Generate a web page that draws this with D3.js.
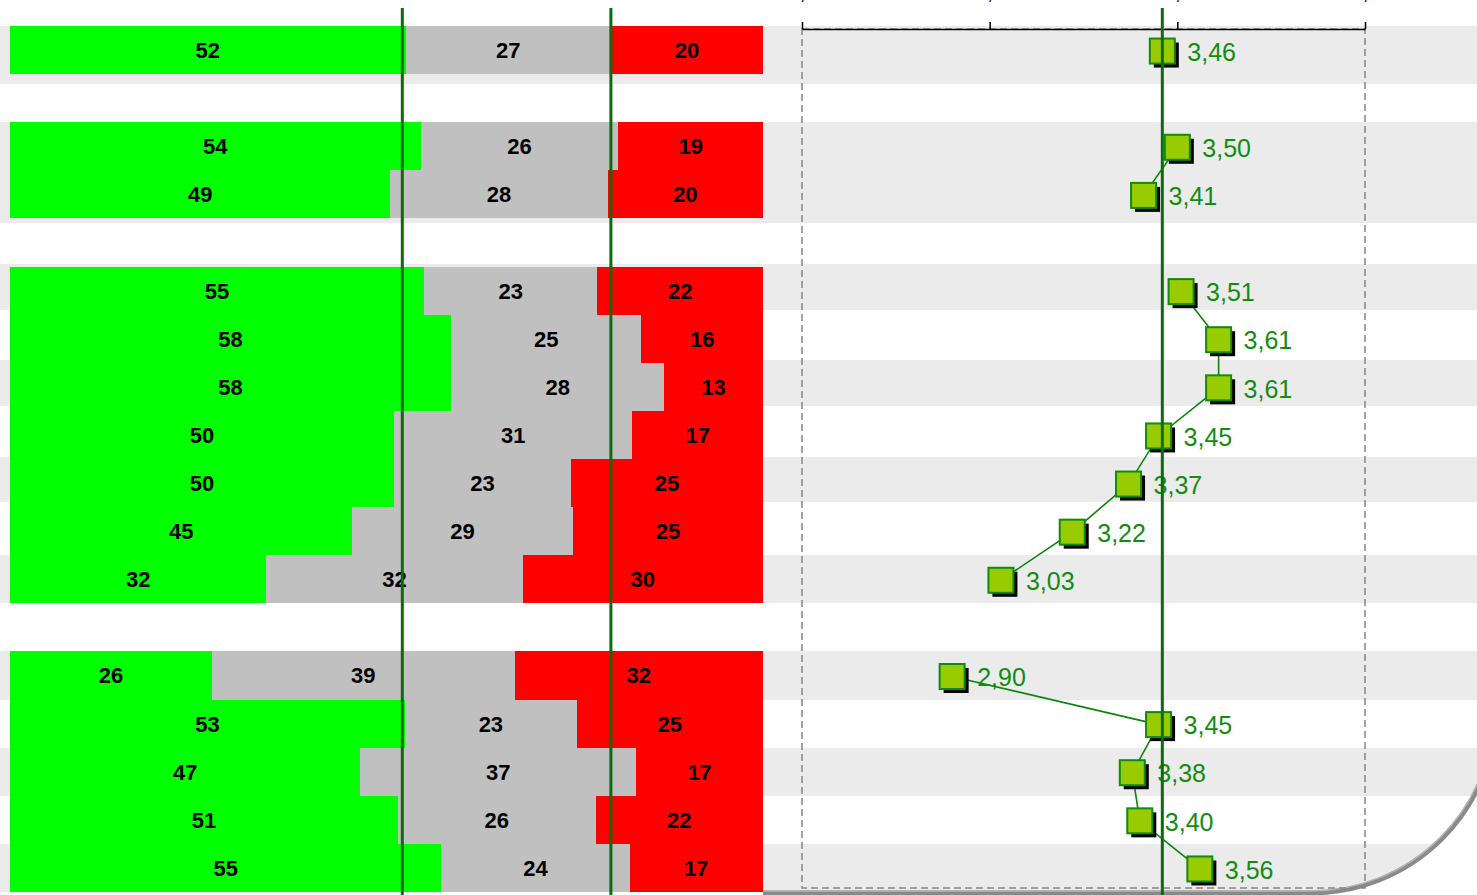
<!DOCTYPE html>
<html>
<head>
<meta charset="utf-8">
<script src="https://cdn.jsdelivr.net/npm/d3@7"></script>
<style>
body { margin: 0; background: #fff; overflow: hidden; }
svg { display: block; font-family: "Liberation Sans", Arial, sans-serif; }
</style>
</head>
<body>
<div id="chart"></div>
<script>
// each drawn row sits on an 18-slot grid, empty slots separate the groups
const slots    = [0, 2, 3, 5, 6, 7, 8, 9, 10, 11, 13, 14, 15, 16, 17];
const groups   = [1, 2, 2, 3, 3, 3, 3, 3, 3, 3, 4, 4, 4, 4, 4];
const positive = [52, 54, 49, 55, 58, 58, 50, 50, 45, 32, 26, 53, 47, 51, 55];
const neutral  = [27, 26, 28, 23, 25, 28, 31, 23, 29, 32, 39, 23, 37, 26, 24];
const negative = [20, 19, 20, 22, 16, 13, 17, 25, 25, 30, 32, 25, 17, 22, 17];
const means    = [3.46, 3.50, 3.41, 3.51, 3.61, 3.61, 3.45, 3.37, 3.22, 3.03, 2.90, 3.45, 3.38, 3.40, 3.56];

const benchShares = [52.1, 79.8];   // reference lines on the share bars (%)
const benchMean = 3.46;
const meanTicks = [2.5, 3.0, 3.5, 4.0];
// shaded background stripes, in slot units
const stripes = [[0, 1.2], [2, 4.1], [4.95, 5.9], [6.95, 7.9], [8.95, 9.9], [11, 12], [13, 14], [15, 16], [17, 18]];

const width = 1477, height = 895;
const segColors = ['#00ff00', '#c0c0c0', '#ff0000'];
const darkGreen = '#0a6c0a';

const svg = d3.select('#chart').append('svg')
    .attr('width', width)
    .attr('height', height);

const y = d3.scaleBand().domain(d3.range(18)).range([26, 892]);
const ySlot = d3.scaleLinear().domain([0, 18]).range([26, 892]);
const xShare = d3.scaleLinear().domain([0, 100]).range([10, 763]);
const xMean = d3.scaleLinear().domain([2.5, 4.0]).range([802, 1365]);

// background stripes
svg.append('g').selectAll('rect').data(stripes)
    .enter().append('rect')
    .attr('x', 0)
    .attr('width', width)
    .attr('y', d => ySlot(d[0]))
    .attr('height', d => ySlot(d[1]) - ySlot(d[0]))
    .attr('fill', '#ebebeb')
    .attr('shape-rendering', 'crispEdges');

// rounded frame corner bottom right
const r = 185, cxC = 1311, bottom = 893;
svg.append('path')
    .attr('d', `M${cxC},${bottom} A${r},${r} 0 0 0 ${cxC + r},${bottom - r} L${cxC + r},${height + 5} L${cxC},${height + 5} Z`)
    .attr('fill', '#fff');
svg.append('path')
    .attr('d', `M763,${bottom} H${cxC} A${r},${r} 0 0 0 ${cxC + r},${bottom - r}`)
    .attr('fill', 'none')
    .attr('stroke', '#8a8a8a')
    .attr('stroke-width', 5);
svg.append('path')
    .attr('d', `M763,${bottom - 2} H${cxC} A${r - 2},${r - 2} 0 0 0 ${cxC + r - 2},${bottom - r}`)
    .attr('fill', 'none')
    .attr('stroke', '#b4b4b4')
    .attr('stroke-width', 1.5);

// dashed plot box for the means
svg.append('rect')
    .attr('x', xMean(2.5))
    .attr('y', 29)
    .attr('width', xMean(4.0) - xMean(2.5))
    .attr('height', 888 - 29)
    .attr('fill', 'none')
    .attr('stroke', '#858585')
    .attr('stroke-width', 1.5)
    .attr('stroke-dasharray', '7,4');

const axis = svg.append('g')
    .attr('transform', 'translate(0,29)')
    .call(d3.axisTop(xMean)
        .tickValues(meanTicks)
        .tickSizeInner(7)
        .tickSizeOuter(0)
        .tickFormat(d => d3.format('.1f')(d).replace('.', ',')));
axis.select('.domain').attr('stroke', '#000').attr('stroke-width', 1.5);
axis.selectAll('.tick line').attr('stroke', '#000').attr('stroke-width', 1.5);
// tick labels sit above the top edge, only the comma tails show
axis.selectAll('text')
    .attr('y', -30)
    .attr('fill', '#000')
    .style('font-size', '22px')
    .style('font-family', '"Liberation Sans", Arial, sans-serif');

// stacked share bars, normalised to full width
const rows = slots.map((s, i) => {
    const vals = [positive[i], neutral[i], negative[i]];
    const tot = d3.sum(vals);
    let acc = 0;
    const segs = vals.map((v, k) => {
        const seg = { slot: s, k: k, v: v, x0: acc / tot * 100, x1: (acc + v) / tot * 100 };
        acc += v;
        return seg;
    });
    return segs;
});
const segs = rows.flat();

svg.append('g').selectAll('rect').data(segs)
    .enter().append('rect')
    .attr('x', d => xShare(d.x0))
    .attr('width', d => xShare(d.x1) - xShare(d.x0))
    .attr('y', d => y(d.slot))
    .attr('height', y.bandwidth())
    .attr('fill', d => segColors[d.k])
    .attr('shape-rendering', 'crispEdges');

svg.append('g').selectAll('text').data(segs)
    .enter().append('text')
    .attr('x', d => (xShare(d.x0) + xShare(d.x1)) / 2)
    .attr('y', d => y(d.slot) + y.bandwidth() / 2)
    .attr('dy', '0.36em')
    .attr('text-anchor', 'middle')
    .style('font-size', '22px')
    .style('font-weight', 'bold')
    .attr('fill', '#000')
    .text(d => d.v);

// mean markers, joined inside each group
const pts = slots.map((s, i) => ({
    g: groups[i],
    v: means[i],
    x: xMean(means[i]),
    y: y(s) + y.bandwidth() / 2 + 1
}));
const line = d3.line().x(d => d.x).y(d => d.y);
const byGroup = d3.groups(pts, d => d.g);

svg.append('g').selectAll('path').data(byGroup)
    .enter().append('path')
    .attr('d', d => line(d[1]))
    .attr('fill', 'none')
    .attr('stroke', '#0b840b')
    .attr('stroke-width', 1.6);

const m = 25;
const mk = svg.append('g').selectAll('g').data(pts).enter().append('g');
mk.append('rect')
    .attr('x', d => d.x - m / 2 + 4)
    .attr('y', d => d.y - m / 2 + 4)
    .attr('width', m)
    .attr('height', m)
    .attr('fill', '#000');
mk.append('rect')
    .attr('x', d => d.x - m / 2)
    .attr('y', d => d.y - m / 2)
    .attr('width', m)
    .attr('height', m)
    .attr('fill', '#99cc00')
    .attr('stroke', '#108a10')
    .attr('stroke-width', 2);

svg.append('g').selectAll('text').data(pts)
    .enter().append('text')
    .attr('x', d => d.x + 25)
    .attr('y', d => d.y + 1)
    .attr('dy', '0.35em')
    .style('font-size', '25px')
    .attr('fill', '#138c13')
    .text(d => d3.format('.2f')(d.v).replace('.', ','));

// reference lines on top
svg.append('g').selectAll('line').data(benchShares.map(v => xShare(v)).concat([xMean(benchMean)]))
    .enter().append('line')
    .attr('x1', d => d)
    .attr('x2', d => d)
    .attr('y1', 8)
    .attr('y2', height)
    .attr('stroke', darkGreen)
    .attr('stroke-width', 3);
</script>
</body>
</html>
